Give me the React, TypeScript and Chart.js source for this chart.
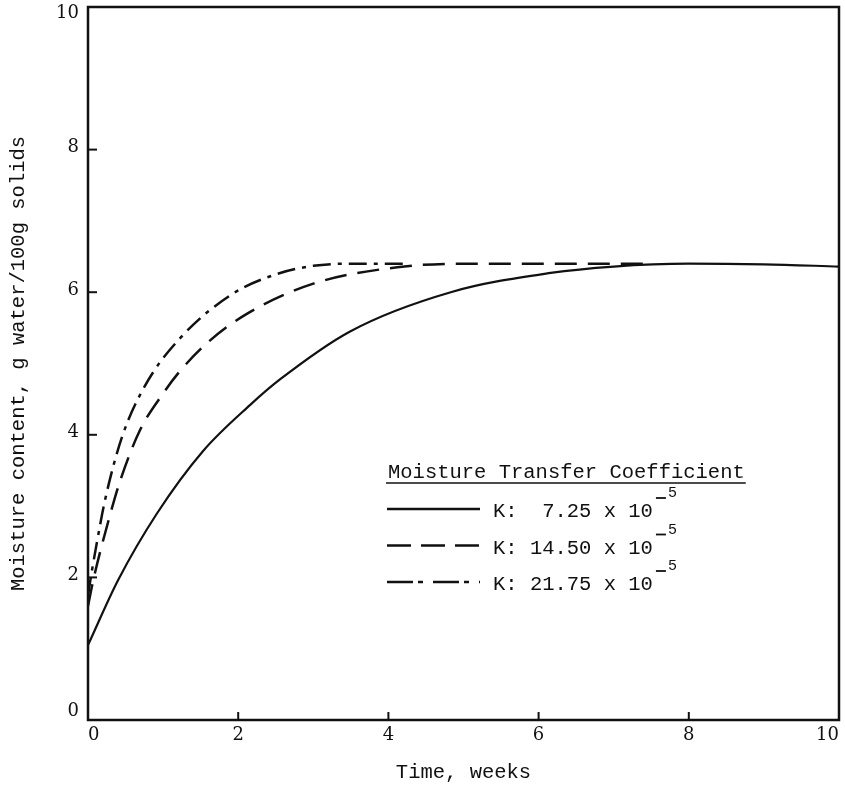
import { useEffect, useRef } from "react";
import { Chart, registerables } from "chart.js";
Chart.register(...registerables);

const xTicks = [0, 2, 4, 6, 8, 10];
const yTicks = [0, 2, 4, 6, 8, 10];
const innerTicks = [2, 4, 6, 8];

const solidX = [0, 0.4, 0.92, 1.53, 2.16, 2.56, 3.49, 4.83, 6.16, 7, 8, 9, 10];
const solidY = [1.05, 1.96, 2.9, 3.77, 4.42, 4.78, 5.45, 6.0, 6.27, 6.36, 6.4, 6.39, 6.36];

const dashedX = [0, 0.07, 0.3, 0.43, 0.69, 1.0, 1.23, 1.6, 2.12, 3.0, 4.12, 5, 6, 7.45];
const dashedY = [1.6, 1.96, 2.9, 3.36, 4.06, 4.58, 4.9, 5.3, 5.7, 6.12, 6.35, 6.4, 6.4, 6.4];

const dashDotX = [0, 0.05, 0.12, 0.23, 0.45, 0.76, 1.23, 1.93, 2.5, 3.0, 3.5, 4.25];
const dashDotY = [1.75, 2.08, 2.5, 3.1, 3.96, 4.69, 5.36, 5.98, 6.25, 6.37, 6.4, 6.4];

const legendTitle = "Moisture Transfer Coefficient";
const legendLabels = ["K:  7.25 x 10", "K: 14.50 x 10", "K: 21.75 x 10"];
const legendExponent = "5";

const xTitle = "Time, weeks";
const yTitle = "Moisture content, g water/100g solids";

const toPts = (xs: number[], ys: number[]) => xs.map((x, i) => ({ x, y: ys[i] }));

const INK = "#111";
const MONO = "'Liberation Mono', monospace";
const SERIF = "'DejaVu Serif', serif";

const framePlugin = {
  id: "frame",
  afterDatasetsDraw(chart: any) {
    const { ctx, chartArea } = chart;
    const { left, top, right, bottom } = chartArea;
    const xs = chart.scales.x;
    const ys = chart.scales.y;
    ctx.save();
    ctx.strokeStyle = INK;
    ctx.lineWidth = 2.5;
    ctx.strokeRect(left, top, right - left, bottom - top);
    ctx.lineWidth = 2;
    innerTicks.forEach((v) => {
      const py = ys.getPixelForValue(v);
      ctx.beginPath();
      ctx.moveTo(left, py);
      ctx.lineTo(left + 9, py);
      ctx.stroke();
      const px = xs.getPixelForValue(v);
      ctx.beginPath();
      ctx.moveTo(px, bottom);
      ctx.lineTo(px, bottom - 8);
      ctx.stroke();
    });
    // y tick labels (kept inside the canvas at the ends)
    ctx.fillStyle = INK;
    ctx.font = `18px ${SERIF}`;
    ctx.textAlign = "right";
    ctx.textBaseline = "middle";
    const yMin = yTicks[0];
    const yMax = yTicks[yTicks.length - 1];
    yTicks.forEach((v) => {
      const py = ys.getPixelForValue(v);
      const shift = v === yMax ? 6 : v === yMin ? -9 : -2;
      ctx.fillText(String(v), left - 9, py + shift);
    });
    ctx.restore();
  },
  afterDraw(chart: any) {
    const { ctx } = chart;
    ctx.save();
    ctx.fillStyle = INK;
    ctx.strokeStyle = INK;
    ctx.font = `20.5px ${MONO}`;
    ctx.textBaseline = "alphabetic";
    ctx.textAlign = "left";
    ctx.fillText(legendTitle, 388, 478);
    const tw = ctx.measureText(legendTitle).width;
    ctx.lineWidth = 1.5;
    ctx.beginPath();
    ctx.moveTo(386, 483);
    ctx.lineTo(388 + tw + 1, 483);
    ctx.stroke();
    const dashes = [[], [24, 10], [26, 5, 5, 10]];
    legendLabels.forEach((lab, i) => {
      const cy = 509 + i * 36.5;
      ctx.lineWidth = 2.5;
      ctx.setLineDash(dashes[i]);
      ctx.beginPath();
      ctx.moveTo(387, cy);
      ctx.lineTo(480, cy);
      ctx.stroke();
      ctx.setLineDash([]);
      ctx.font = `20.5px ${MONO}`;
      ctx.fillText(lab, 493, cy + 8);
      const w = ctx.measureText(lab).width;
      const ex = 493 + w;
      ctx.lineWidth = 1.8;
      ctx.beginPath();
      ctx.moveTo(ex + 3, cy - 11);
      ctx.lineTo(ex + 13, cy - 11);
      ctx.stroke();
      ctx.font = `15px ${MONO}`;
      ctx.fillText(legendExponent, ex + 15, cy - 12);
    });
    ctx.restore();
  },
};

export default function App() {
  const ref = useRef<HTMLCanvasElement>(null);
  useEffect(() => {
    const chart = new Chart(ref.current!, {
      type: "line",
      data: {
        datasets: [
          {
            data: toPts(solidX, solidY),
            borderColor: INK,
            borderWidth: 2.2,
            pointRadius: 0,
            cubicInterpolationMode: "monotone",
          },
          {
            data: toPts(dashedX, dashedY),
            borderColor: INK,
            borderWidth: 2.5,
            borderDash: [22, 11],
            pointRadius: 0,
            cubicInterpolationMode: "monotone",
          },
          {
            data: toPts(dashDotX, dashDotY),
            borderColor: INK,
            borderWidth: 2.5,
            borderDash: [18, 7, 4, 7],
            pointRadius: 0,
            cubicInterpolationMode: "monotone",
          },
        ],
      } as any,
      options: {
        animation: false,
        responsive: false,
        devicePixelRatio: 1,
        layout: { padding: { left: 0, right: 6, top: 7, bottom: 0 } },
        plugins: { legend: { display: false }, tooltip: { enabled: false } },
        scales: {
          x: {
            type: "linear",
            min: 0,
            max: 10,
            afterBuildTicks: (s: any) => {
              s.ticks = xTicks.map((v) => ({ value: v }));
            },
            ticks: {
              color: INK,
              font: { family: SERIF, size: 18 },
              padding: 5,
              maxRotation: 0,
              autoSkip: false,
              align: "inner",
            },
            grid: { display: false, drawTicks: false },
            border: { display: false },
            title: {
              display: true,
              text: xTitle,
              color: INK,
              font: { family: MONO, size: 20.5 },
              padding: { top: 0, bottom: 2 },
            },
            afterFit: (s: any) => {
              s.height = 67;
              s.paddingLeft = 0;
              s.paddingRight = 0;
            },
          },
          y: {
            type: "linear",
            min: 0,
            max: 10,
            afterBuildTicks: (s: any) => {
              s.ticks = yTicks.map((v) => ({ value: v }));
            },
            ticks: { display: false },
            grid: { display: false, drawTicks: false },
            border: { display: false },
            title: {
              display: true,
              text: yTitle,
              color: INK,
              font: { family: MONO, size: 20.5 },
              padding: { top: 6, bottom: 0 },
            },
            afterFit: (s: any) => {
              s.width = 88;
              s.paddingTop = 0;
              s.paddingBottom = 0;
            },
          },
        },
      } as any,
      plugins: [framePlugin],
    });
    return () => chart.destroy();
  }, []);
  return (
    <div style={{ position: "fixed", left: 0, top: 0, width: 845, height: 787, background: "#fff" }}>
      <canvas ref={ref} width={845} height={787} style={{ width: 845, height: 787, display: "block" }} />
    </div>
  );
}
